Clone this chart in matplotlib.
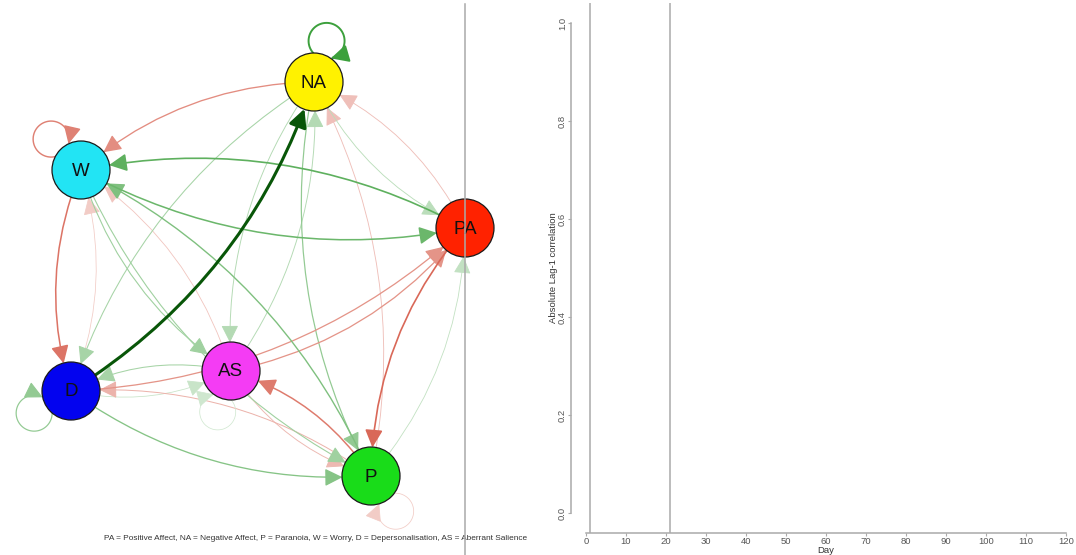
import numpy as np
import matplotlib
matplotlib.use("Agg")
import matplotlib.pyplot as plt
from matplotlib.colors import to_rgb
from matplotlib.patches import Circle, FancyArrowPatch, ArrowStyle
from matplotlib.path import Path

plt.rcParams['font.family'] = ['Liberation Sans', 'DejaVu Sans']

# --- network: nodes, lagged edges and self-loops ---
node_names = ['PA', 'NA', 'P', 'W', 'D', 'AS']
node_colors = ['#ff2200', '#fff200', '#19dc19', '#22e4f4', '#0303ef', '#f43cf4']
# layout (pixel space of the canvas, y grows downwards)
layout_x = [465, 314, 371, 81, 71, 231]
layout_y = [228, 82, 476, 170, 391, 371]

edge_from = ['D', 'NA', 'PA', 'W', 'P', 'W', 'W', 'D', 'NA', 'W', 'AS', 'AS',
             'D', 'AS', 'PA', 'NA', 'P', 'AS', 'D', 'P', 'P', 'NA', 'PA', 'P',
             'AS', 'NA', 'D']
edge_to = ['NA', 'W', 'W', 'PA', 'W', 'P', 'D', 'W', 'D', 'AS', 'W', 'D',
           'PA', 'PA', 'P', 'P', 'AS', 'P', 'P', 'D', 'PA', 'PA', 'NA', 'NA',
           'NA', 'AS', 'AS']
edge_weight = [0.45, -0.14, 0.20, 0.18, 0.15, 0.10, -0.18, -0.04, 0.09, 0.10,
               -0.05, 0.09, -0.13, -0.13, -0.20, 0.12, -0.17, -0.07, 0.14,
               -0.08, 0.05, 0.06, -0.06, -0.06, 0.07, 0.07, 0.04]

loop_nodes = ['NA', 'W', 'D', 'AS', 'P']
loop_weight = [0.25, -0.16, 0.12, 0.03, -0.04]
loop_angle = [-73, -134, 149, 108, 55]

legend_text = ("PA = Positive Affect, NA = Negative Affect, P = Paranoia, W = Worry, "
               "D = Depersonalisation, AS = Aberrant Salience")

# --- lag-1 correlation panel ---
day_ticks = list(range(0, 121, 10))
corr_ticks = [0.0, 0.2, 0.4, 0.6, 0.8, 1.0]
day_markers = [1, 21]
divider_x = 465

CUT = 0.3
NODE_R = 29
LOOP_R = 18


def edge_style(w):
    # faded edges are mixed with the white background so heads stay flat
    a = abs(w)
    if a >= CUT:
        base = '#085608' if w > 0 else '#dd0000'
        fade = 1.0
    else:
        base = '#148c14' if w > 0 else '#c8230c'
        fade = 0.12 + 0.85 * a / CUT
    rgb = 1 - fade * (1 - np.array(to_rgb(base)))
    return tuple(rgb), 0.4 + 4.0 * a


def loop_path(cx, cy, ang):
    # arc of a small circle sitting on the node rim, drawn clockwise on screen
    th = np.radians(ang)
    d = NODE_R + 14
    lx, ly = cx + d * np.cos(th), cy + d * np.sin(th)
    u = np.arccos((NODE_R ** 2 - d ** 2 - LOOP_R ** 2) / (2 * d * LOOP_R))
    t = np.linspace(th - u, th + u, 60)
    return Path(np.column_stack([lx + LOOP_R * np.cos(t), ly + LOOP_R * np.sin(t)]))


fig = plt.figure(figsize=(10.76, 5.55), dpi=100)
fig.patch.set_facecolor('white')

ax = fig.add_axes([0, 0, 1, 1])
ax.set_xlim(0, 1076)
ax.set_ylim(555, 0)
ax.axis('off')

head = ArrowStyle('-|>', head_length=0.9, head_width=0.45)

circles = {}
for name, x, y, c in zip(node_names, layout_x, layout_y, node_colors):
    circ = Circle((x, y), NODE_R, facecolor=c, edgecolor='#1a1a1a', lw=0.9, zorder=3)
    ax.add_patch(circ)
    circles[name] = circ
    ax.text(x, y + 1, name, ha='center', va='center', fontsize=13.5,
            color='#111111', zorder=4)

pos = {n: (x, y) for n, x, y in zip(node_names, layout_x, layout_y)}

# weaker edges first so the strong ones sit on top
order = np.argsort(np.abs(edge_weight))
for i in order:
    a, b, w = edge_from[i], edge_to[i], edge_weight[i]
    color, lw = edge_style(w)
    arr = FancyArrowPatch(pos[a], pos[b], connectionstyle='arc3,rad=0.18',
                          arrowstyle=head, mutation_scale=12, lw=lw,
                          color=color, patchA=circles[a], patchB=circles[b],
                          shrinkA=0, shrinkB=0, zorder=2)
    ax.add_patch(arr)

for n, w, ang in zip(loop_nodes, loop_weight, loop_angle):
    color, lw = edge_style(w)
    cx, cy = pos[n]
    ax.add_patch(FancyArrowPatch(path=loop_path(cx, cy, ang), arrowstyle=head,
                                 mutation_scale=12, lw=lw, color=color, zorder=2))

ax.plot([divider_x, divider_x], [4, 555], color='#aaaaaa', lw=1.1, zorder=5)
ax.text(316, 538, legend_text, ha='center', va='center', fontsize=5.95,
        color='#333333')

# right panel, R-style axes with 4% padding
ax2 = fig.add_axes([566.8 / 1076, 1 - 532.6 / 555, 518.4 / 1076, 529.2 / 555])
ax2.patch.set_alpha(0)
ax2.set_xlim(-4.8, 124.8)
ax2.set_ylim(-0.04, 1.04)
for m in day_markers:
    ax2.axvline(m, color='#aaaaaa', lw=1.1)
for s in ['top', 'right']:
    ax2.spines[s].set_visible(False)
for s in ['left', 'bottom']:
    ax2.spines[s].set_color('#aaaaaa')
    ax2.spines[s].set_linewidth(1.1)
ax2.spines['left'].set_position(('data', -3.75))
ax2.spines['left'].set_bounds(0, 1)
ax2.spines['bottom'].set_bounds(0, 120)
ax2.set_xticks(day_ticks)
ax2.set_yticks(corr_ticks)
ax2.set_yticklabels([f'{v:.1f}' for v in corr_ticks], rotation=90, va='center')
ax2.tick_params(colors='#aaaaaa', labelcolor='#555555', labelsize=6.8,
                length=2, width=0.8, pad=1)
ax2.set_xlabel('Day', fontsize=6.8, color='#333333', labelpad=0)
ax2.set_ylabel('Absolute Lag-1 correlation', fontsize=6.8, color='#333333', labelpad=0)

fig.savefig('out.png', dpi=100, facecolor='white')
